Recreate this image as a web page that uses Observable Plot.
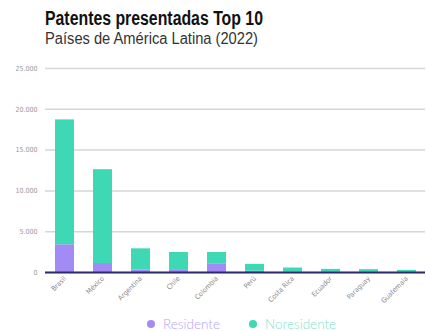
<!DOCTYPE html>
<html>
<head>
<meta charset="utf-8">
<script src="https://cdn.jsdelivr.net/npm/d3@7"></script>
<script src="https://cdn.jsdelivr.net/npm/@observablehq/plot@0.6"></script>
<style>
  body { margin: 0; background: #fff; width: 426px; height: 331px; overflow: hidden; font-family: "Liberation Sans", sans-serif; }
  #head { position: relative; height: 50px; }
  #title { position: absolute; left: 45px; top: 8.3px; font-weight: 700; font-size: 20px; color: #111; line-height: 20px; white-space: nowrap; transform-origin: left center; }
  #subtitle { position: absolute; left: 45px; top: 30.5px; font-size: 16px; color: #333; line-height: 16px; font-weight: 400; white-space: nowrap; transform-origin: left center; }
  #legend { position: relative; height: 23px; font-family: Lato, Roboto, sans-serif; font-weight: 300; font-size: 13.5px; }
  .item { position: absolute; top: 10px; line-height: 12px; height: 12px; display: flex; align-items: center; }
  .dot { width: 8px; height: 8px; border-radius: 50%; margin-right: 8px; }
</style>
</head>
<body>
<div id="head">
  <div id="title">Patentes presentadas Top 10</div>
  <div id="subtitle">Países de América Latina (2022)</div>
</div>
<div id="chart"></div>
<div id="legend"></div>
<script>
const countries = ["Brasil", "México", "Argentina", "Chile", "Colombia", "Perú", "Costa Rica", "Ecuador", "Paraguay", "Guatemala"];
const residente = [3400, 1100, 300, 350, 1000, 150, 50, 30, 20, 10];
const noResidente = [15300, 11500, 2600, 2100, 1450, 850, 500, 350, 330, 250];
const seriesNames = ["Residente", "Noresidente"];
const seriesColors = ["#a38bf5", "#3fd8b4"];
const legendTextColors = ["#b4a6f3", "#86e2cd"];
const yTicks = [0, 5000, 10000, 15000, 20000, 25000];

const data = [];
countries.forEach((c, i) => {
  data.push({country: c, serie: seriesNames[0], value: residente[i]});
  data.push({country: c, serie: seriesNames[1], value: noResidente[i]});
});

const fmt = d => d === 0 ? "0" : d3.format(",")(d).replace(",", ".");

const chart = Plot.plot({
  width: 426,
  height: 258,
  marginTop: 18,
  marginBottom: 36,
  marginLeft: 45,
  marginRight: 1,
  style: {fontFamily: "'DejaVu Sans Condensed', 'DejaVu Sans', sans-serif", fontSize: "7px", color: "#888"},
  x: {domain: countries, padding: 0.5, paddingOuter: 0.25, label: null},
  y: {domain: [0, 25000], label: null},
  color: {domain: seriesNames, range: seriesColors},
  marks: [
    Plot.gridY(yTicks, {stroke: "#d6d6d6", strokeOpacity: 1, strokeWidth: 1.5}),
    Plot.axisY(yTicks, {tickSize: 0, tickPadding: 8, tickFormat: fmt, fill: "#999", fontSize: 7}),
    Plot.barY(data, Plot.stackY({x: "country", y: "value", fill: "serie", order: seriesNames})),
    Plot.ruleY([0], {stroke: "#2c2a6b", strokeWidth: 2}),
    Plot.axisX({tickSize: 0, tickPadding: 5, tickRotate: -45, fill: "#888", fontSize: 7})
  ]
});
document.getElementById("chart").appendChild(chart);

// fit heading widths to the reference's condensed lettering
function fit(id, target) {
  const el = document.getElementById(id);
  const w = el.getBoundingClientRect().width;
  if (w > 0) el.style.transform = `scaleX(${target / w})`;
}
fit("title", 218);
fit("subtitle", 213);

const legend = document.getElementById("legend");
const legendX = [147, 249];
seriesNames.forEach((s, i) => {
  const item = document.createElement("div");
  item.className = "item";
  item.style.left = legendX[i] + "px";
  item.innerHTML = `<span class="dot" style="background:${seriesColors[i]}"></span><span style="color:${legendTextColors[i]}">${s}</span>`;
  legend.appendChild(item);
});
</script>
</body>
</html>
